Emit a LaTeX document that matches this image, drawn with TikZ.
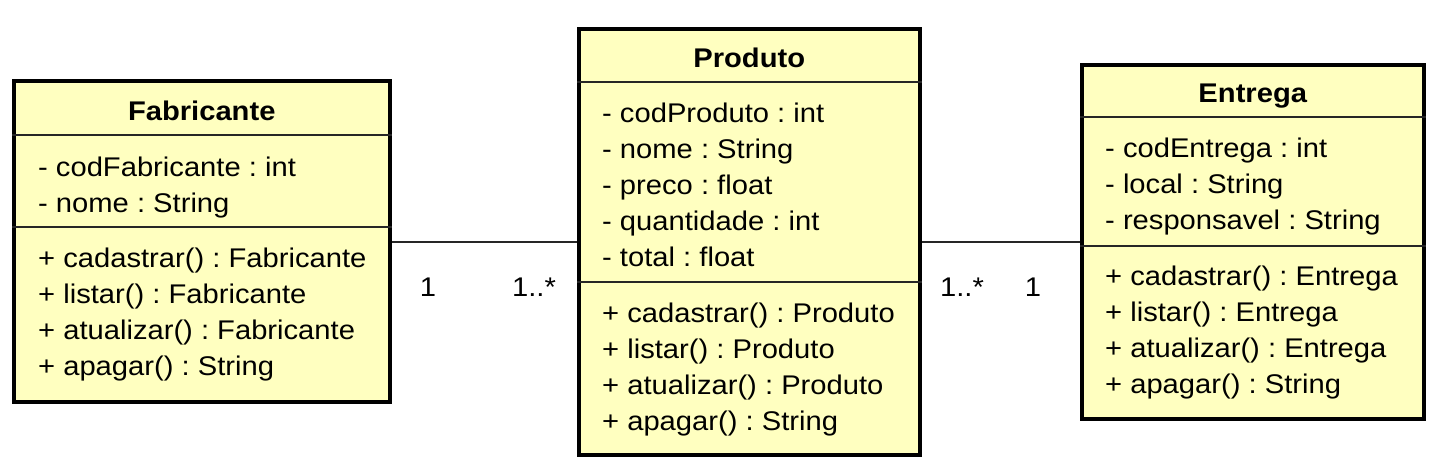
\documentclass[tikz,border=0pt]{standalone}
\usepackage{fontspec}
\setmainfont{Liberation Sans}[FakeStretch=1.08]
\usepackage{tikz}
\usetikzlibrary{positioning}
\definecolor{classfill}{HTML}{FFFFC0}
\frenchspacing

\begin{document}
\begin{tikzpicture}[x=1pt, y=-1pt,
    cls/.style={rectangle, draw=black, line width=3.5pt, fill=classfill,
      anchor=north west, inner sep=0pt},
    cname/.style={font=\fontsize{27}{32}\selectfont\bfseries, anchor=base},
    member/.style={font=\fontsize{27}{32}\selectfont, anchor=base west, inner sep=0pt},
    sepline/.style={line width=1.6pt, black!85},
    assoc/.style={line width=2pt, black!85},
    mult/.style={font=\fontsize{27}{32}\selectfont, anchor=base},
  ]
  \useasboundingbox (0,0) rectangle (1442,472);
  % Fabricante
  \node[cls, minimum width=376pt, minimum height=321pt] (fab) at (12,79) {};
  \node[cname] (fabname) at (fab.north |- 0,120) {Fabricante};
  \draw[sepline] (fab.west |- 0,135) -- (fab.east |- 0,135);
  \draw[sepline] (fab.west |- 0,227) -- (fab.east |- 0,227);
  \node[member] (fa1) at (38,176) {- codFabricante : int};
  \node[member] (fa2) at (38,212) {- nome : String};
  \node[member] (fm1) at (38,267) {+ cadastrar() : Fabricante};
  \node[member] (fm2) at (38,303) {+ listar() : Fabricante};
  \node[member] (fm3) at (38,339) {+ atualizar() : Fabricante};
  \node[member] (fm4) at (38,375) {+ apagar() : String};
  % Produto
  \node[cls, minimum width=341pt, minimum height=426pt] (prod) at (577,27) {};
  \node[cname] (prodname) at (prod.north |- 0,67) {Produto};
  \draw[sepline] (prod.west |- 0,82) -- (prod.east |- 0,82);
  \draw[sepline] (prod.west |- 0,282) -- (prod.east |- 0,282);
  \node[member] (pa1) at (602,122) {- codProduto : int};
  \node[member] (pa2) at (602,158) {- nome : String};
  \node[member] (pa3) at (602,194) {- preco : float};
  \node[member] (pa4) at (602,230) {- quantidade : int};
  \node[member] (pa5) at (602,266) {- total : float};
  \node[member] (pm1) at (602,322) {+ cadastrar() : Produto};
  \node[member] (pm2) at (602,358) {+ listar() : Produto};
  \node[member] (pm3) at (602,394) {+ atualizar() : Produto};
  \node[member] (pm4) at (602,430) {+ apagar() : String};
  % Entrega
  \node[cls, minimum width=342pt, minimum height=354pt] (ent) at (1080,63) {};
  \node[cname] (entname) at (ent.north |- 0,102) {Entrega};
  \draw[sepline] (ent.west |- 0,117) -- (ent.east |- 0,117);
  \draw[sepline] (ent.west |- 0,246) -- (ent.east |- 0,246);
  \node[member] (ea1) at (1105,157) {- codEntrega : int};
  \node[member] (ea2) at (1105,193) {- local : String};
  \node[member] (ea3) at (1105,229) {- responsavel : String};
  \node[member] (em1) at (1105,285) {+ cadastrar() : Entrega};
  \node[member] (em2) at (1105,321) {+ listar() : Entrega};
  \node[member] (em3) at (1105,357) {+ atualizar() : Entrega};
  \node[member] (em4) at (1105,393) {+ apagar() : String};
  % associations
  \draw[assoc] (fab.east |- prod.west) -- (prod.west);
  \draw[assoc] (prod.east) -- (ent.west |- prod.east);
  \node[mult] (m1) at (428,296) {1};
  \node[mult] (m2) at (534,296) {1..*};
  \node[mult] (m3) at (962,296) {1..*};
  \node[mult] (m4) at (1033,296) {1};
\end{tikzpicture}
\end{document}
